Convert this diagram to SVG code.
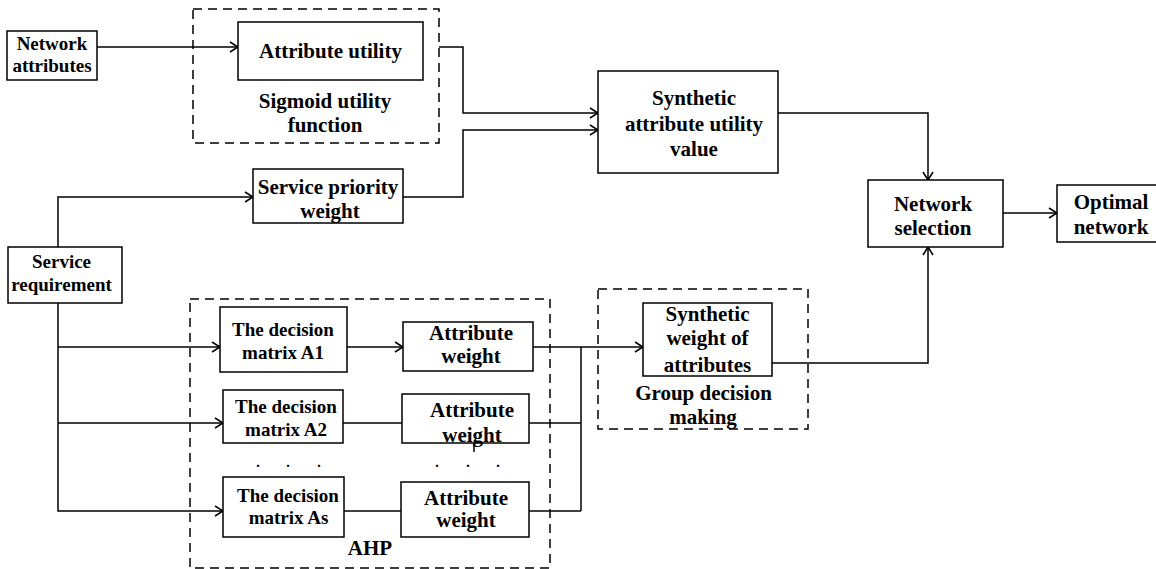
<svg xmlns="http://www.w3.org/2000/svg" width="1156" height="569" viewBox="0 0 1156 569">
<style>
.box{fill:#fff;stroke:#000;stroke-width:1.5}
.dash{fill:none;stroke:#000;stroke-width:1.5;stroke-dasharray:9 6}
.ln{fill:none;stroke:#000;stroke-width:1.5}
text{font-family:"Liberation Serif","Times New Roman",serif;font-weight:bold;fill:#000;text-anchor:middle}
.t21{font-size:21px}
.t19{font-size:19px}
.dot{font-size:14px}
</style>
<defs>
<marker id="arr" markerUnits="userSpaceOnUse" markerWidth="12" markerHeight="12" refX="10" refY="6" orient="auto">
<path d="M2,1 L10,6 L2,11" fill="none" stroke="#000" stroke-width="1.5"/>
</marker>
</defs>
<rect width="1156" height="569" fill="#fff"/>
<g id="groups">
<rect id="sigmoid-group" class="dash" x="193" y="9" width="246" height="134"/>
<rect id="ahp-group" class="dash" x="190" y="299" width="360" height="269"/>
<rect id="gdm-group" class="dash" x="598" y="289" width="210" height="140"/>
</g>
<g id="connectors">
<path class="ln" d="M97,47 H238" marker-end="url(#arr)"/>
<path class="ln" d="M439,47 H463 V113 H598" marker-end="url(#arr)"/>
<path class="ln" d="M403,197 H463 V130 H598" marker-end="url(#arr)"/>
<path class="ln" d="M58,247 V197 H253" marker-end="url(#arr)"/>
<path class="ln" d="M58,303 V511 H223" marker-end="url(#arr)"/>
<path class="ln" d="M58,347 H220" marker-end="url(#arr)"/>
<path class="ln" d="M58,423 H223" marker-end="url(#arr)"/>
<path class="ln" d="M347,347 H403" marker-end="url(#arr)"/>
<path class="ln" d="M338,423 H402"/>
<path class="ln" d="M344,511 H401"/>
<path class="ln" d="M533,347 H643" marker-end="url(#arr)"/>
<path class="ln" d="M581,347 V511"/>
<path class="ln" d="M529,423 H581"/>
<path class="ln" d="M529,511 H581"/>
<path class="ln" d="M772,363 H928 V247" marker-end="url(#arr)"/>
<path class="ln" d="M778,113 H928 V180" marker-end="url(#arr)"/>
<path class="ln" d="M1003,213 H1057" marker-end="url(#arr)"/>
<path class="ln" d="M474,443 V452" stroke-width="1"/>
</g>
<g id="network-attributes">
<rect class="box" x="7" y="31" width="90" height="49"/>
<text class="t19" x="52" y="50">Network</text>
<text class="t19" x="52" y="72">attributes</text>
</g>
<g id="attribute-utility">
<rect class="box" x="238" y="22" width="185" height="58"/>
<text class="t21" x="330.5" y="58">Attribute utility</text>
</g>
<g id="sigmoid-label">
<text class="t21" x="325" y="108">Sigmoid utility</text>
<text class="t21" x="325" y="132">function</text>
</g>
<g id="service-priority-weight">
<rect class="box" x="253" y="169" width="150" height="54"/>
<text class="t21" x="328" y="194">Service priority</text>
<text class="t21" x="330" y="218">weight</text>
</g>
<g id="synthetic-attribute-utility">
<rect class="box" x="598" y="71" width="180" height="102"/>
<text class="t21" x="694" y="105">Synthetic</text>
<text class="t21" x="694" y="131">attribute utility</text>
<text class="t21" x="694" y="156">value</text>
</g>
<g id="network-selection">
<rect class="box" x="868" y="180" width="135" height="67"/>
<text class="t21" x="933" y="211">Network</text>
<text class="t21" x="933" y="235">selection</text>
</g>
<g id="optimal-network">
<rect class="box" x="1057" y="185" width="110" height="57"/>
<text class="t21" x="1111" y="209">Optimal</text>
<text class="t21" x="1111" y="234">network</text>
</g>
<g id="service-requirement">
<rect class="box" x="8" y="247" width="114" height="56"/>
<text class="t19" x="61.5" y="268">Service</text>
<text class="t19" x="61.5" y="291">requirement</text>
</g>
<g id="matrix-a1">
<rect class="box" x="220" y="307" width="127" height="65"/>
<text class="t19" x="283" y="336">The decision</text>
<text class="t19" x="283" y="359">matrix A1</text>
</g>
<g id="matrix-a2">
<rect class="box" x="223" y="390" width="120" height="53"/>
<text class="t19" x="286" y="413">The decision</text>
<text class="t19" x="286" y="436">matrix A2</text>
</g>
<g id="matrix-dots">
<text class="dot" x="258" y="467">.</text>
<text class="dot" x="288" y="467">.</text>
<text class="dot" x="319" y="467">.</text>
</g>
<g id="matrix-as">
<rect class="box" x="223" y="477" width="121" height="60"/>
<text class="t19" x="288" y="502">The decision</text>
<text class="t19" x="288.5" y="524">matrix As</text>
</g>
<g id="attribute-weight-1">
<rect class="box" x="403" y="322" width="130" height="49"/>
<text class="t21" x="471" y="340">Attribute</text>
<text class="t21" x="471" y="363">weight</text>
</g>
<g id="attribute-weight-2">
<rect class="box" x="402" y="394" width="127" height="49"/>
<text class="t21" x="472" y="417">Attribute</text>
<text class="t21" x="472" y="442">weight</text>
</g>
<g id="weight-dots">
<text class="dot" x="437" y="467">.</text>
<text class="dot" x="468" y="467">.</text>
<text class="dot" x="498" y="467">.</text>
</g>
<g id="attribute-weight-3">
<rect class="box" x="401" y="482" width="128" height="55"/>
<text class="t21" x="466" y="505">Attribute</text>
<text class="t21" x="466" y="527">weight</text>
</g>
<g id="ahp-label">
<text class="t21" x="370" y="555">AHP</text>
</g>
<g id="synthetic-weight">
<rect class="box" x="643" y="303" width="129" height="73"/>
<text class="t21" x="707.5" y="321">Synthetic</text>
<text class="t21" x="707.5" y="345">weight of</text>
<text class="t21" x="707.5" y="372">attributes</text>
</g>
<g id="gdm-label">
<text class="t21" x="703.5" y="400">Group decision</text>
<text class="t21" x="703" y="424">making</text>
</g>
</svg>
